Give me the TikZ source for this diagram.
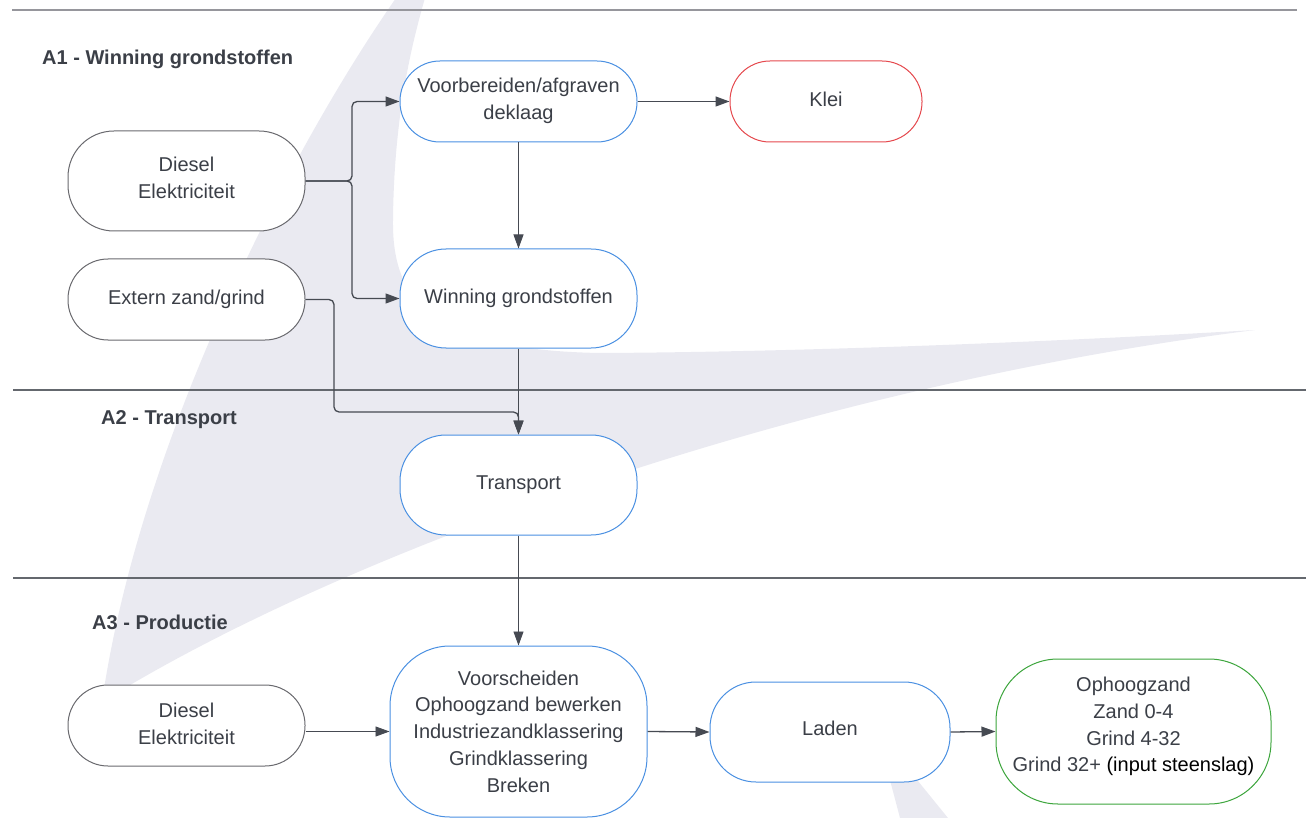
\documentclass[tikz,border=0pt]{standalone}
\usepackage{fontspec}
\setmainfont{Liberation Sans}
\usetikzlibrary{arrows.meta}
\definecolor{txt}{RGB}{59,63,71}
\definecolor{swoosh}{RGB}{234,234,241}
\definecolor{bgray}{RGB}{105,105,110}
\definecolor{bblue}{RGB}{74,144,226}
\definecolor{bred}{RGB}{229,72,77}
\definecolor{bgreen}{RGB}{60,165,60}
\definecolor{conncol}{RGB}{70,74,82}
\definecolor{toplinecol}{RGB}{150,150,156}
\definecolor{linecol}{RGB}{100,104,110}
\newcommand{\nodefont}{\fontsize{20}{26.7}\selectfont}
\newcommand{\hdrfont}{\fontsize{20}{24}\selectfont\bfseries}
\begin{document}
\begin{tikzpicture}[x=1pt,y=-1pt,
  pill/.style={draw, fill=white, align=center, inner sep=0pt, text=txt,
    font=\nodefont, line width=1pt},
  hdr/.style={anchor=west, inner sep=0pt, text=txt, font=\hdrfont},
  conn/.style={draw=conncol, line width=1.3pt, -{Triangle[length=14pt,width=10pt]}},
  sect/.style={draw=linecol, line width=1.3pt}]
\useasboundingbox (0,0) rectangle (1306,818);
\clip (0,0) rectangle (1306,818);
% background swoosh
\fill[swoosh] (396,-2) .. controls (290,150) and (140,440) .. (102,702)
  .. controls (330,560) and (780,390) .. (1255,330)
  .. controls (1050,342) and (800,352) .. (600,353)
  .. controls (430,350) and (392,300) .. (393,220)
  .. controls (394,120) and (410,50) .. (425,-2) -- cycle;
\fill[swoosh] (886,765) -- (905,765) -- (948,818) -- (900,818) -- cycle;
% section lines
\coordinate (l0a) at (12,10); \coordinate (l0b) at (1297,10);
\coordinate (l1a) at (13,390); \coordinate (l1b) at (1306,390);
\coordinate (l2a) at (13,578); \coordinate (l2b) at (1306,578);
\draw[draw=toplinecol, line width=2.2pt] (l0a) -- (l0b);
\draw[sect] (l1a) -- (l1b);
\draw[sect] (l2a) -- (l2b);
% headers
\node[hdr] (h1) at (42,59) {A1 - Winning grondstoffen};
\node[hdr] (h2) at (101,420) {A2 - Transport};
\node[hdr] (h3) at (92,622) {A3 - Productie};
% nodes
\node[pill, draw=bgray, rounded corners=46pt, minimum width=237pt, minimum height=100pt, text depth=6pt] (dieselA) at (186.5,181) {Diesel\\Elektriciteit};
\node[pill, draw=bgray, rounded corners=40pt, minimum width=237pt, minimum height=81pt] (extern) at (186.5,299.5) {Extern zand/grind};
\node[pill, draw=bblue, rounded corners=40pt, minimum width=237pt, minimum height=81pt, text depth=6pt] (voorb) at (518.5,101.5) {Voorbereiden/afgraven\\deklaag};
\node[pill, draw=bred, rounded corners=40pt, minimum width=192pt, minimum height=81pt, text depth=4pt] (klei) at (826,101.5) {Klei};
\node[pill, draw=bblue, rounded corners=46pt, minimum width=237pt, minimum height=99pt] (winning) at (518.5,298.5) {Winning grondstoffen};
\node[pill, draw=bblue, rounded corners=46pt, minimum width=237pt, minimum height=100pt] (transport) at (518.5,485) {Transport};
\node[pill, draw=bgray, rounded corners=40pt, minimum width=237pt, minimum height=81pt, text depth=4pt] (dieselC) at (186.5,725.5) {Diesel\\Elektriciteit};
\node[pill, draw=bblue, rounded corners=60pt, minimum width=257pt, minimum height=171pt] (voorsch) at (518.5,731.5) {Voorscheiden\\Ophoogzand bewerken\\Industriezandklassering\\Grindklassering\\Breken};
\node[pill, draw=bblue, rounded corners=46pt, minimum width=240pt, minimum height=100pt, text depth=8pt] (laden) at (830,732) {Laden};
\node[pill, draw=bgreen, rounded corners=62pt, minimum width=275pt, minimum height=145pt, text depth=14pt] (output) at (1133.5,731.5) {Ophoogzand\\Zand 0-4\\Grind 4-32\\Grind 32+ {\color{black}(input steenslag)}};
% connectors
\coordinate (j1) at (352,181);
\coordinate (j2) at (334,412);
\draw[conn, rounded corners=5pt] (dieselA.east) -- (j1) |- (voorb.west);
\draw[conn, rounded corners=5pt] (dieselA.east) -- (j1) |- (winning.west);
\draw[conn, line width=0.9pt] (voorb.south) -- (winning.north);
\draw[conn] (voorb.east) -- (klei.west);
\draw[conn, rounded corners=5pt] (extern.east) -| (j2) -| (transport.north);
\draw[conn, line width=0.9pt] (winning.south) -- (transport.north);
\draw[conn, line width=0.9pt] (transport.south) -- (voorsch.north);
\draw[conn, line width=0.9pt] (dieselC.east |- voorsch.west) -- (voorsch.west);
\draw[conn] (voorsch.east) -- (laden.west);
\draw[conn] (laden.east) -- (output.west);
\end{tikzpicture}
\end{document}
